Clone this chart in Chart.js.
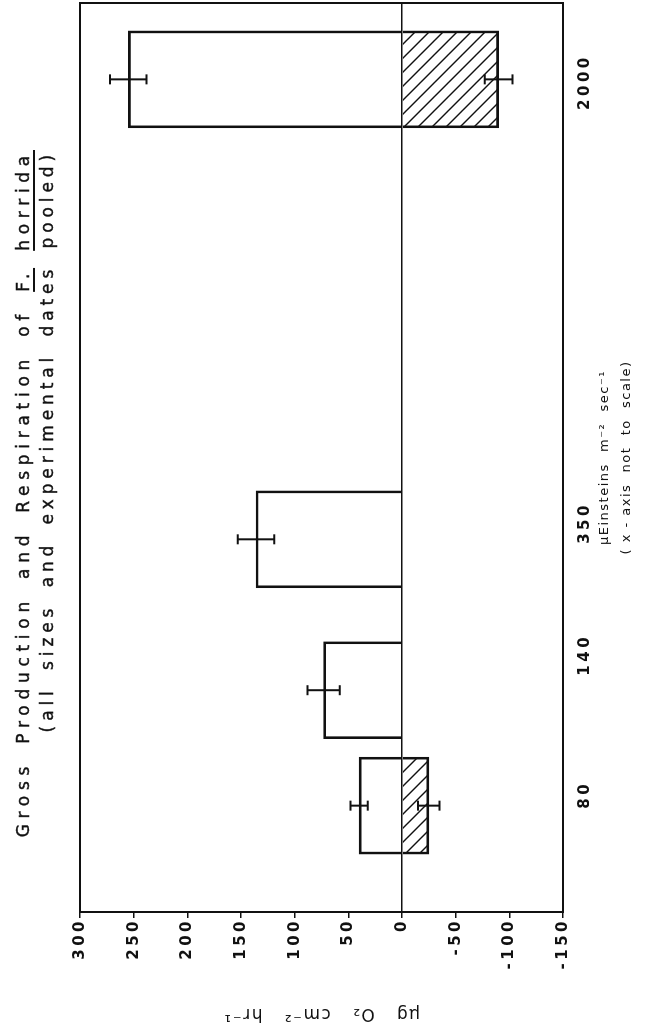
<!DOCTYPE html>
<html>
<head>
<meta charset="utf-8">
<script src="https://cdn.jsdelivr.net/npm/chart.js@4.4.1/dist/chart.umd.min.js"></script>
<style>
  html, body { margin: 0; padding: 0; background: #fff; overflow: hidden; width: 651px; height: 1035px; }
  /* the figure is laid out landscape and turned a quarter turn to sit upright on the page */
  #sheet { position: absolute; left: 0; top: 0; width: 1035px; height: 651px;
           transform-origin: 0 0; transform: translate(0, 1035px) rotate(-90deg); background: #fff; }
  #plot { position: absolute; left: 0; top: 0; width: 1035px; height: 651px; }
  .ttl { position: absolute; right: 150px; white-space: nowrap; font-family: "DejaVu Sans", sans-serif;
         font-size: 17px; line-height: 20px; color: #111; word-spacing: 6px; -webkit-text-stroke: 0.4px #111; }
  .ttl u { text-decoration-thickness: 2px; text-underline-offset: 4px; }
</style>
</head>
<body>
<div id="sheet">
  <canvas id="plot" width="1035" height="651"></canvas>
  <div class="ttl" id="t1" style="top:13px;">Gross Production and Respiration of <u>F.</u> <u>horrida</u></div>
  <div class="ttl" id="t2" style="top:37px;">(all sizes and experimental dates pooled)</div>
</div>
<script>
// Light levels (µEinsteins m-2 sec-1); the axis is not to scale, so each level has a slot position
const lightLevels   = ['80', '140', '350', '2000'];
const barSlots      = [11.7, 24.4, 41.0, 91.6];
const labelSlots    = [12.9, 28.3, 42.8, 91.3];

// µg O2 cm-2 hr-1
const grossProduction    = [40, 73, 136, 255];
const grossProductionErr = [8, 15, 17, 17];
const respiration        = [-25, null, null, -90];
const respirationErr     = [10, null, null, 13];

const valueTicks = [300, 250, 200, 150, 100, 50, 0, -50, -100, -150];

// stretch the title lines to their set widths
function spreadLine(el, width) {
  el.style.letterSpacing = '0px';
  const w0 = el.offsetWidth;
  const n = el.textContent.length;
  el.style.letterSpacing = ((width - w0) / n).toFixed(2) + 'px';
}
spreadLine(document.getElementById('t1'), 687);
spreadLine(document.getElementById('t2'), 583);

// diagonal hatching for respiration bars
function hatch() {
  const s = 14, c = document.createElement('canvas');
  c.width = s; c.height = s;
  const g = c.getContext('2d');
  g.strokeStyle = '#111'; g.lineWidth = 1.4;
  g.beginPath();
  g.moveTo(-1, -1); g.lineTo(s + 1, s + 1);
  g.moveTo(-1, s - 1); g.lineTo(1, s + 1);
  g.moveTo(s - 1, -1); g.lineTo(s + 1, 1);
  g.stroke();
  return g.createPattern(c, 'repeat');
}

const toPoints = (vals, errs) => vals
  .map((v, i) => v === null ? null : { x: barSlots[i], y: v, err: errs[i] })
  .filter(p => p !== null);

const INK = '#111';
const tickFont = { family: '"DejaVu Sans", sans-serif', size: 15, weight: 'bold' };
const titleFont = { family: '"DejaVu Sans", sans-serif', size: 13, weight: 'normal' };

// axis titles are drawn with a light tracking, tick labels (drawn after the bars) with a wide one
const spacing = {
  id: 'spacing',
  beforeLayout(chart) { chart.ctx.letterSpacing = '3.5px'; },
  beforeDraw(chart) { chart.ctx.letterSpacing = '1.5px'; },
  beforeDatasetsDraw(chart) { chart.ctx.letterSpacing = '3.5px'; }
};

const frame = {
  id: 'frame',
  afterDraw(chart) {
    const { ctx, chartArea: a } = chart;
    ctx.save();
    ctx.strokeStyle = INK; ctx.lineWidth = 2;
    ctx.strokeRect(a.left, a.top, a.right - a.left, a.bottom - a.top);
    ctx.restore();
  }
};

const errorBars = {
  id: 'errorBars',
  afterDatasetsDraw(chart) {
    const { ctx } = chart;
    const y = chart.scales.y;
    ctx.save();
    ctx.strokeStyle = INK; ctx.lineWidth = 2;
    chart.data.datasets.forEach((ds, di) => {
      const meta = chart.getDatasetMeta(di);
      meta.data.forEach((bar, j) => {
        const p = ds.data[j];
        if (!p || p.err == null) return;
        const y1 = y.getPixelForValue(p.y - p.err);
        const y2 = y.getPixelForValue(p.y + p.err);
        const cap = 5;
        ctx.beginPath();
        ctx.moveTo(bar.x, y1); ctx.lineTo(bar.x, y2);
        ctx.moveTo(bar.x - cap, y1); ctx.lineTo(bar.x + cap, y1);
        ctx.moveTo(bar.x - cap, y2); ctx.lineTo(bar.x + cap, y2);
        ctx.stroke();
      });
    });
    ctx.restore();
  }
};

new Chart(document.getElementById('plot'), {
  type: 'bar',
  data: {
    datasets: [
      {
        label: 'Gross production',
        data: toPoints(grossProduction, grossProductionErr),
        backgroundColor: 'rgba(255,255,255,0)', borderColor: INK, borderWidth: 2, borderSkipped: 'start',
        barThickness: 97, grouped: false
      },
      {
        label: 'Respiration',
        data: toPoints(respiration, respirationErr),
        backgroundColor: hatch(), borderColor: INK, borderWidth: 2, borderSkipped: 'start',
        barThickness: 97, grouped: false
      }
    ]
  },
  options: {
    responsive: false,
    animation: false,
    events: [],
    layout: { padding: { left: 0, right: 3, top: 80, bottom: 0 } },
    plugins: { legend: { display: false }, tooltip: { enabled: false }, title: { display: false } },
    scales: {
      x: {
        type: 'linear', min: 0, max: 100, offset: false,
        grid: { display: false },
        border: { display: false },
        afterBuildTicks: s => { s.ticks = labelSlots.map(v => ({ value: v })); },
        afterFit: s => { s.height = 88; },
        ticks: {
          autoSkip: false, maxRotation: 0, minRotation: 0, color: INK, font: tickFont, padding: 5, z: 1,
          callback: (v, i) => lightLevels[i]
        },
        title: {
          display: true, color: INK,
          text: ['µEinsteins  m⁻²  sec⁻¹', '( x - axis  not  to  scale)'],
          font: { ...titleFont, lineHeight: '22px' },
          padding: { top: 0, bottom: 13 }
        }
      },
      y: {
        type: 'linear', min: -150, max: 300,
        afterBuildTicks: s => { s.ticks = valueTicks.map(v => ({ value: v })); },
        afterFit: s => { s.width = 123; },
        border: { display: false },
        grid: {
          color: c => (c.tick && c.tick.value === 0) ? INK : 'rgba(0,0,0,0)',
          tickColor: INK, tickLength: 6, lineWidth: 1.5, drawTicks: true
        },
        ticks: { color: INK, font: tickFont, padding: 0, z: 1 },
        title: {
          display: true, color: INK,
          text: 'µg   O₂   cm⁻²   hr⁻¹',
          font: { ...titleFont, size: 17 },
          padding: { top: 11, bottom: 0 }
        }
      }
    }
  },
  plugins: [spacing, errorBars, frame]
});
</script>
</body>
</html>
